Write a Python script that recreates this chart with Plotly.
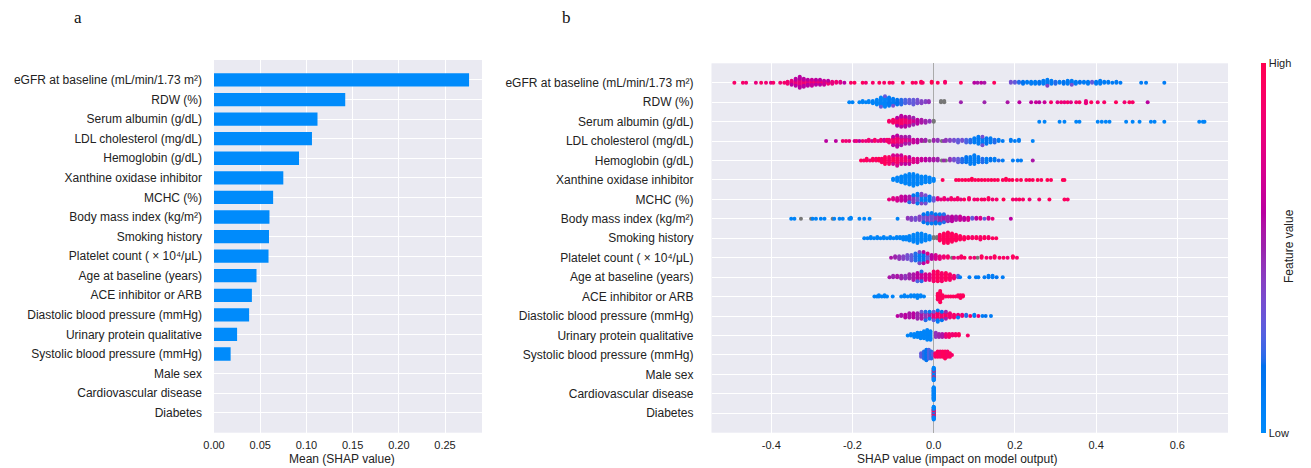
import numpy as np
import plotly.graph_objects as go

# ---------------- data ----------------
features = [
    "eGFR at baseline (mL/min/1.73 m²)", "RDW (%)", "Serum albumin (g/dL)",
    "LDL cholesterol (mg/dL)", "Hemoglobin (g/dL)", "Xanthine oxidase inhibitor",
    "MCHC (%)", "Body mass index (kg/m²)", "Smoking history",
    "Platelet count ( × 10⁴/μL)", "Age at baseline (years)", "ACE inhibitor or ARB",
    "Diastolic blood pressure (mmHg)", "Urinary protein qualitative",
    "Systolic blood pressure (mmHg)", "Male sex", "Cardiovascular disease", "Diabetes",
]
mean_shap = [0.276, 0.142, 0.112, 0.106, 0.092, 0.075, 0.064, 0.060, 0.0595, 0.059,
             0.046, 0.041, 0.038, 0.025, 0.018, 0.0, 0.0, 0.0]
bar_ticks = [0.0, 0.05, 0.10, 0.15, 0.20, 0.25]
bar_ticktext = ["0.00", "0.05", "0.10", "0.15", "0.20", "0.25"]
shap_ticks = [-0.4, -0.2, 0.0, 0.2, 0.4, 0.6]
shap_ticktext = ["-0.4", "-0.2", "0.0", "0.2", "0.4", "0.6"]

# beeswarm readings: (SHAP value, number of samples, feature value 0=low..1=high, None = missing)
egfr = [(-0.491,1,0.9),(-0.470,1,0.9),(-0.462,1,0.85),(-0.438,1,0.8),(-0.425,1,0.9),(-0.413,1,0.85),
        (-0.401,1,0.75),(-0.395,1,0.9),(-0.378,1,0.85),(-0.368,1,0.9),
        (-0.36,3,0.85),(-0.35,4,0.8),(-0.35,1,0.6),(-0.34,5,0.8),(-0.34,3,0.6),(-0.33,7,0.8),(-0.33,5,0.6),
        (-0.32,5,0.85),(-0.32,4,0.6),(-0.31,4,0.8),(-0.31,3,0.6),(-0.30,4,0.85),(-0.30,3,0.65),
        (-0.29,4,0.8),(-0.29,2,0.6),(-0.28,4,0.85),(-0.28,2,0.6),(-0.27,3,0.8),(-0.27,2,0.65),
        (-0.26,3,0.85),(-0.26,1,0.6),(-0.25,3,0.8),(-0.24,2,0.85),(-0.23,2,0.75),
        (-0.220,1,0.6),(-0.204,1,0.9),(-0.195,1,0.95),(-0.175,1,0.95),(-0.167,1,0.85),(-0.150,1,0.9),
        (-0.134,1,0.95),(-0.122,1,0.9),(-0.109,1,0.95),(-0.101,1,0.9),(-0.076,1,1.0),(-0.052,1,0.95),
        (-0.044,1,0.9),(-0.031,2,0.95),(-0.027,1,0.9),(-0.005,2,1.0),(0.010,1,0.95),(0.028,2,0.9),
        (0.067,1,0.95),(0.100,1,0.6),(0.108,1,0.55),(0.117,1,0.6),(0.125,1,0.55),(0.149,1,0.95),
        (0.19,2,0.35),(0.20,2,0.3),(0.21,2,0.2),(0.22,3,0.15),(0.23,2,0.1),(0.24,3,0.1),(0.25,3,0.1),
        (0.26,3,0.15),(0.27,4,0.1),(0.28,6,0.1),(0.28,1,0.4),(0.29,4,0.1),(0.30,3,0.2),(0.31,2,0.1),
        (0.32,3,0.15),(0.33,4,0.1),(0.34,4,0.1),(0.34,1,0.35),(0.35,3,0.1),(0.36,2,0.15),(0.37,2,0.1),
        (0.38,3,0.1),(0.39,2,0.3),(0.40,3,0.1),(0.41,4,0.1),(0.42,2,0.1),(0.43,2,0.1),(0.44,1,0.1),
        (0.45,2,0.1),(0.46,1,0.1),(0.511,1,0.1),(0.523,1,0.1),(0.568,1,0.1)]
rdw = [(-0.208,1,0.05),(-0.200,1,0.05),(-0.183,1,0.05),(-0.175,2,0.05),(-0.167,1,0.05),
       (-0.16,2,0.05),(-0.15,3,0.05),(-0.14,5,0.05),(-0.13,8,0.05),(-0.13,1,0.3),(-0.12,9,0.05),(-0.12,1,0.3),
       (-0.11,8,0.1),(-0.10,6,0.1),(-0.10,1,0.35),(-0.09,5,0.15),(-0.08,5,0.2),(-0.07,4,0.25),(-0.06,4,0.3),
       (-0.05,5,0.3),(-0.04,4,0.35),(-0.03,3,0.4),(-0.02,2,0.4),(-0.012,2,0.45),(0.018,2,None),(0.026,2,None),
       (0.067,1,0.5),(0.125,1,0.5),(0.182,1,0.55),(0.211,1,0.6),(0.240,1,0.6),(0.252,1,0.65),(0.260,1,0.6),
       (0.273,1,0.65),(0.289,1,0.9),(0.305,1,0.75),(0.314,1,0.85),(0.322,1,0.8),(0.330,1,0.9),(0.338,1,0.75),
       (0.351,1,0.85),(0.359,1,0.9),(0.375,3,0.8),(0.388,1,0.95),(0.404,1,0.85),(0.420,1,0.9),
       (0.449,1,0.95),(0.470,1,0.85),(0.482,1,0.95),(0.490,1,0.9),(0.527,1,0.6)]
albumin = [(-0.11,2,0.9),(-0.10,4,0.9),(-0.09,7,0.9),(-0.09,2,0.6),(-0.08,9,0.9),(-0.08,3,0.6),
           (-0.07,8,0.85),(-0.07,3,0.6),(-0.06,7,0.8),(-0.06,3,0.55),(-0.05,6,0.7),(-0.05,2,0.5),
           (-0.04,5,0.6),(-0.03,4,0.55),(-0.02,3,0.5),(-0.01,2,0.45),(0.0,2,None),
           (0.260,1,0.05),(0.273,1,0.05),(0.310,1,0.05),(0.322,1,0.05),(0.351,1,0.05),(0.359,1,0.05),
           (0.404,1,0.05),(0.414,1,0.05),(0.424,1,0.05),(0.433,1,0.05),(0.474,1,0.05),(0.490,1,0.05),
           (0.507,1,0.05),(0.535,1,0.05),(0.544,1,0.05),(0.568,1,0.05),(0.654,1,0.05),(0.663,1,0.05),
           (0.667,1,0.05)]
ldl = [(-0.265,1,0.6),(-0.241,1,0.6),(-0.224,1,0.85),(-0.216,1,0.85),(-0.208,1,0.8),
       (-0.195,1,0.7),(-0.19,1,0.85),(-0.183,1,0.6),(-0.175,1,0.85),(-0.167,1,0.8),(-0.16,2,0.85),
       (-0.152,1,0.7),(-0.145,2,0.9),(-0.137,1,0.75),(-0.13,2,0.85),(-0.122,2,0.7),(-0.115,2,0.9),
       (-0.11,3,0.85),(-0.10,5,0.9),(-0.10,2,0.6),(-0.09,6,0.85),(-0.09,3,0.6),(-0.08,5,0.8),(-0.08,2,0.55),
       (-0.07,4,0.75),(-0.07,2,0.55),(-0.06,4,0.7),(-0.06,2,0.5),(-0.05,3,0.65),(-0.04,3,0.6),
       (-0.03,2,0.55),(-0.025,1,None),(-0.02,2,0.5),(-0.01,1,None),(0.0,2,0.5),(0.01,2,0.45),(0.02,1,None),
       (0.025,1,0.45),(0.03,2,0.45),(0.04,2,0.4),(0.05,2,0.35),(0.06,3,0.3),(0.07,2,0.35),(0.08,3,0.25),
       (0.09,3,0.2),(0.10,4,0.1),(0.11,6,0.1),(0.12,5,0.1),(0.12,2,0.35),(0.13,5,0.15),(0.14,4,0.1),
       (0.15,3,0.2),(0.16,2,0.1),(0.17,1,0.1),(0.19,2,0.1),(0.20,1,0.1),(0.21,2,0.1),(0.244,1,0.05)]
hemoglobin = [(-0.179,1,0.95),(-0.172,1,0.9),(-0.165,2,0.95),(-0.157,1,0.85),(-0.15,2,0.95),(-0.142,2,0.9),
              (-0.135,2,1.0),(-0.128,3,0.9),(-0.12,5,0.95),(-0.11,5,0.9),(-0.10,4,0.95),(-0.10,2,0.7),
              (-0.09,5,0.9),(-0.09,2,0.7),(-0.08,4,0.85),(-0.08,2,0.65),(-0.07,4,0.85),(-0.07,1,0.6),
              (-0.06,3,0.8),(-0.06,2,0.6),(-0.05,3,0.75),(-0.04,3,0.7),(-0.03,2,0.65),(-0.02,2,0.6),
              (-0.01,2,0.55),(0.0,2,0.55),(0.01,2,0.5),(0.02,1,None),(0.025,1,0.5),(0.03,1,None),
              (0.04,2,0.45),(0.05,2,0.35),(0.06,3,0.3),(0.07,3,0.2),(0.08,4,0.15),(0.09,5,0.1),(0.10,6,0.1),
              (0.11,4,0.1),(0.12,3,0.2),(0.13,3,0.1),(0.14,2,0.15),(0.15,2,0.1),(0.16,1,0.2),(0.17,1,0.1),
              (0.195,1,0.1),(0.207,1,0.1),(0.215,1,0.1),(0.244,1,0.55)]
xanthine = [(-0.10,2,0.05),(-0.09,4,0.05),(-0.08,6,0.05),(-0.07,8,0.05),(-0.06,10,0.05),(-0.05,11,0.05),
            (-0.04,9,0.05),(-0.03,7,0.05),(-0.02,6,0.05),(-0.01,5,0.05),(0.0,3,0.05),
            (0.022,1,0.95),(0.055,1,0.95),(0.062,1,1.0),(0.070,1,0.95),(0.078,1,1.0),(0.086,1,0.95),
            (0.094,2,1.0),(0.102,1,0.95),(0.110,1,1.0),(0.118,1,0.95),(0.126,1,1.0),(0.134,1,0.95),
            (0.142,1,1.0),(0.150,1,0.95),(0.158,1,1.0),(0.170,1,0.95),(0.178,2,1.0),(0.186,1,0.95),
            (0.194,1,1.0),(0.205,1,0.95),(0.215,1,1.0),(0.228,1,0.95),(0.236,1,1.0),(0.244,1,0.95),
            (0.256,1,1.0),(0.265,1,0.95),(0.280,1,1.0),(0.289,1,0.95),(0.318,1,1.0),(0.322,1,0.95)]
mchc = [(-0.11,1,0.8),(-0.10,2,0.75),(-0.09,3,0.7),(-0.08,4,0.65),(-0.07,4,0.6),(-0.06,4,0.55),(-0.06,1,0.2),
        (-0.05,5,0.45),(-0.05,1,0.15),(-0.04,5,0.3),(-0.04,3,0.1),(-0.03,5,0.1),(-0.03,3,0.4),(-0.02,5,0.1),
        (-0.02,2,0.35),(-0.01,4,0.15),(0.0,3,0.3),
        (0.010,2,0.75),(0.018,1,0.8),(0.026,2,0.85),(0.035,1,0.7),(0.043,2,0.9),(0.051,1,0.85),(0.059,2,0.9),
        (0.067,1,0.8),(0.075,1,0.95),(0.087,2,0.9),(0.100,1,0.85),(0.108,1,0.9),(0.118,1,0.95),
        (0.125,1,0.9),(0.135,2,0.95),(0.145,1,0.85),(0.155,1,0.9),(0.172,1,1.0),(0.195,1,0.9),
        (0.203,1,0.85),(0.211,1,0.95),(0.220,1,0.9),(0.236,1,0.85),(0.260,1,0.9),(0.285,1,0.95),
        (0.322,1,0.95),(0.330,1,0.9)]
bmi = [(-0.351,1,0.05),(-0.343,1,0.05),(-0.327,1,None),(-0.302,1,None),(-0.298,1,0.05),(-0.290,1,0.05),
       (-0.278,1,0.05),(-0.269,1,0.05),(-0.249,1,None),(-0.245,1,0.05),(-0.232,1,0.05),(-0.224,1,0.05),
       (-0.208,1,0.05),(-0.204,2,0.05),(-0.183,1,0.05),(-0.171,1,0.05),(-0.158,1,0.05),(-0.089,1,0.05),
       (-0.064,2,0.45),(-0.055,3,0.4),(-0.045,3,0.35),(-0.035,4,0.4),(-0.025,6,0.35),(-0.025,2,0.15),
       (-0.015,7,0.4),(-0.015,3,0.1),(-0.005,8,0.35),(-0.005,2,0.1),(0.005,6,0.45),(0.005,3,0.15),
       (0.015,7,0.5),(0.015,2,0.1),(0.025,6,0.55),(0.025,2,0.2),(0.035,5,0.5),(0.045,5,0.6),(0.055,4,0.55),
       (0.065,4,0.65),(0.075,3,0.6),(0.085,3,0.7),(0.095,2,0.3),(0.105,2,0.6),(0.115,2,0.75),(0.125,1,0.3),
       (0.135,2,0.7),(0.145,1,0.8),(0.190,1,0.6)]
smoking = [(-0.171,1,0.05),(-0.163,1,0.05),(-0.155,2,0.05),(-0.147,1,0.05),(-0.139,2,0.05),(-0.131,1,0.05),
           (-0.123,2,0.05),(-0.115,1,0.05),(-0.107,2,0.05),(-0.099,1,0.05),(-0.091,2,0.05),(-0.083,2,0.05),
           (-0.075,3,0.05),(-0.068,3,0.05),(-0.06,5,0.05),(-0.05,7,0.05),(-0.04,9,0.05),(-0.03,8,0.05),
           (-0.02,6,0.05),(-0.01,4,0.05),(0.0,2,None),(0.008,2,None),
           (0.015,6,0.95),(0.025,9,0.95),(0.035,10,0.95),(0.045,8,0.95),(0.055,6,0.95),(0.065,4,0.95),
           (0.075,3,0.95),(0.085,2,0.95),(0.095,2,0.9),(0.105,2,0.95),(0.115,3,0.9),(0.125,2,0.95),
           (0.135,2,0.9),(0.145,1,0.95),(0.154,1,0.95)]
platelet = [(-0.105,1,0.55),(-0.095,2,0.5),(-0.085,3,0.45),(-0.075,3,0.4),(-0.065,4,0.35),(-0.055,5,0.3),
            (-0.045,6,0.2),(-0.035,7,0.1),(-0.035,2,0.4),(-0.025,7,0.15),(-0.025,2,0.6),(-0.015,5,0.3),
            (-0.015,2,0.75),(-0.005,4,0.6),(0.005,4,0.7),(0.015,3,0.8),(0.025,2,0.85),(0.035,2,0.9),
            (0.045,1,None),(0.050,1,0.8),(0.060,1,0.85),(0.068,2,0.9),(0.076,1,0.95),(0.090,1,0.9),
            (0.100,1,0.85),(0.108,1,None),(0.118,2,0.95),(0.130,1,0.9),(0.140,1,0.85),(0.150,2,0.95),
            (0.162,1,0.9),(0.172,1,0.95),(0.182,1,0.85),(0.195,2,0.95),(0.205,1,0.9)]
age = [(-0.109,1,0.55),(-0.10,2,0.5),(-0.09,2,0.55),(-0.08,3,0.5),(-0.07,3,0.45),(-0.06,4,0.5),(-0.05,5,0.55),
       (-0.04,6,0.6),(-0.04,1,0.25),(-0.03,6,0.65),(-0.03,2,0.2),(-0.02,5,0.7),(-0.01,5,0.75),(0.0,8,0.9),
       (0.01,8,0.95),(0.02,7,0.9),(0.03,6,0.95),(0.04,5,0.9),(0.05,3,0.85),(0.06,2,0.3),(0.065,1,0.1),
       (0.088,1,0.1),(0.104,1,0.1),(0.110,1,0.1),(0.125,1,0.1),(0.135,2,0.1),(0.145,2,0.1),(0.155,1,0.15),
       (0.170,1,0.1)]
ace = [(-0.146,1,0.05),(-0.140,1,0.05),(-0.135,2,0.05),(-0.128,1,0.05),(-0.121,2,0.05),(-0.115,1,0.05),
       (-0.101,1,0.05),(-0.080,1,0.05),(-0.072,2,0.05),(-0.064,1,0.05),(-0.056,2,0.05),(-0.048,2,0.05),
       (-0.040,3,0.05),(-0.032,2,0.05),(-0.024,1,0.05),
       (0.010,5,0.95),(0.016,9,0.95),(0.022,3,0.95),(0.030,1,0.95),(0.036,1,0.95),(0.042,1,0.95),
       (0.048,1,0.95),(0.054,1,0.95),(0.060,2,0.95),(0.066,3,0.95),(0.072,2,0.95)]
diastolic = [(-0.089,1,0.6),(-0.08,2,0.55),(-0.07,3,0.6),(-0.06,4,0.55),(-0.05,4,0.6),(-0.04,5,0.5),
             (-0.03,5,0.55),(-0.03,1,0.3),(-0.02,5,0.45),(-0.02,2,0.2),(-0.01,4,0.5),(-0.01,2,0.1),
             (0.0,5,0.8),(0.0,2,0.3),(0.01,6,0.9),(0.01,3,0.1),(0.02,5,0.85),(0.02,2,0.15),(0.03,4,0.9),
             (0.03,2,0.5),(0.04,4,0.85),(0.05,3,0.9),(0.06,2,0.8),(0.06,1,0.1),(0.07,2,0.85),(0.08,2,0.2),
             (0.09,1,0.9),(0.10,2,0.1),(0.11,1,0.85),(0.12,1,0.1),(0.128,1,0.15),(0.141,1,0.1)]
urinary = [(-0.064,1,0.05),(-0.056,2,0.05),(-0.048,3,0.05),(-0.040,4,0.05),(-0.032,5,0.05),(-0.024,6,0.05),
           (-0.016,8,0.05),(-0.008,7,0.05),(0.005,4,0.45),(0.013,3,0.5),(0.021,3,0.55),(0.030,3,0.8),
           (0.038,3,0.9),(0.046,2,0.85),(0.054,2,0.9),(0.062,2,0.95),(0.084,1,0.9)]
systolic = [(-0.031,3,0.3),(-0.024,5,0.2),(-0.018,7,0.15),(-0.012,6,0.25),(-0.006,5,0.2),(-0.002,2,0.3),
            (0.004,3,0.9),(0.010,4,0.95),(0.016,4,0.9),(0.022,4,0.95),(0.028,5,0.95),(0.034,4,0.9),
            (0.040,3,0.95),(0.045,1,0.9)]
male_sex = [(0.0,4,0.95),(0.0,8,0.05),(0.0,4,0.95),(0.0,10,0.05)]
cardiovascular = [(0.0,30,0.05)]
diabetes = [(0.0,2,0.05),(0.0,6,0.95),(0.0,4,0.05),(0.0,6,0.95),(0.0,12,0.05)]

swarm_rows = [egfr, rdw, albumin, ldl, hemoglobin, xanthine, mchc, bmi, smoking, platelet,
              age, ace, diastolic, urinary, systolic, male_sex, cardiovascular, diabetes]

# ---------------- colormap (shap red_blue, LCH interpolation) ----------------
def lch2rgb(L, C, h):
    a, b = C * np.cos(h), C * np.sin(h)
    fy = (L + 16) / 116
    fx, fz = fy + a / 500, fy - b / 200
    finv = lambda t: t ** 3 if t ** 3 > 0.008856 else (t - 16 / 116) / 7.787
    X, Y, Z = 0.95047 * finv(fx), finv(fy), 1.08883 * finv(fz)
    lin = [3.2406 * X - 1.5372 * Y - 0.4986 * Z,
           -0.9689 * X + 1.8758 * Y + 0.0415 * Z,
           0.0557 * X - 0.2040 * Y + 1.0570 * Z]
    out = []
    for c in lin:
        c = 1.055 * c ** (1 / 2.4) - 0.055 if c > 0.0031308 else 12.92 * c
        out.append(int(round(255 * min(1, max(0, c)))))
    return "rgb(%d,%d,%d)" % tuple(out)

nsteps = 100
l_vals = list(np.linspace(54, 40, nsteps // 2)) + list(np.linspace(40, 54, nsteps // 2))
c_vals = np.linspace(70, 90, nsteps)
h_vals = np.linspace(4.6588, 0.35470565 + 2 * np.pi, nsteps)
cscale = [[i / (nsteps - 1), lch2rgb(l_vals[i], c_vals[i], h_vals[i])] for i in range(nsteps)]

# ---------------- beeswarm layout ----------------
n = len(features)
pos = [n - 1 - i for i in range(n)]
col_x, col_y, col_c, nan_x, nan_y = [], [], [], [], []
for i, rows in enumerate(swarm_rows):
    stacks, order = {}, []
    for v, cnt, fv in rows:
        k = round(v, 4)
        if k not in stacks:
            stacks[k] = []
            order.append(k)
        stacks[k].extend([fv] * cnt)
    pts = []
    for k in order:
        for layer, fv in enumerate(stacks[k]):
            ys = np.ceil(layer / 2) * ((layer % 2) * 2 - 1)
            pts.append((k, ys, fv))
    ymax = max(abs(p[1]) for p in pts)
    scale = 0.9 * 0.4 / (ymax + 1)
    for k, ys, fv in pts:
        if fv is None:
            nan_x.append(k); nan_y.append(pos[i] + ys * scale)
        else:
            col_x.append(k); col_y.append(pos[i] + ys * scale); col_c.append(fv)

# ---------------- figure ----------------
W, H = 1311, 468
FONT = "Liberation Sans"
TXT = "#222222"
fig = go.Figure()

fig.add_trace(go.Bar(x=mean_shap, y=pos, orientation="h", width=0.68,
                     marker=dict(color="#008bfb", line=dict(width=0)),
                     xaxis="x", yaxis="y", showlegend=False))

fig.add_trace(go.Scatter(x=nan_x, y=nan_y, mode="markers", xaxis="x2", yaxis="y2",
                         marker=dict(size=4, color="#777777", line=dict(width=0)), showlegend=False))
fig.add_trace(go.Scatter(x=col_x, y=col_y, mode="markers", xaxis="x2", yaxis="y2", showlegend=False,
                         marker=dict(size=4, color=col_c, colorscale=cscale, cmin=0, cmax=1,
                                     line=dict(width=0), showscale=True,
                                     colorbar=dict(thickness=5, len=369.5 / H, lenmode="fraction",
                                                   y=1 - 248 / H, yanchor="middle",
                                                   x=1261 / W, xanchor="left", xpad=0, ypad=0,
                                                   outlinewidth=0, tickvals=[0, 1],
                                                   ticktext=["Low", "High"], ticks="",
                                                   tickfont=dict(family=FONT, size=11, color=TXT)))))

grid = "#ffffff"
bg = "#eaeaf2"
fig.update_layout(
    width=W, height=H, autosize=False, template="none",
    margin=dict(l=0, r=0, t=0, b=0),
    paper_bgcolor="white", plot_bgcolor=bg,
    font=dict(family=FONT, size=12, color=TXT),
    xaxis=dict(domain=[214 / W, 482 / W], range=[0, 0.29], tickvals=bar_ticks, ticktext=bar_ticktext,
               showgrid=True, gridcolor=grid, gridwidth=1, zeroline=False, showline=False, ticks="",
               tickfont=dict(size=11), automargin=False, ticklabelstandoff=4, fixedrange=True),
    yaxis=dict(domain=[1 - 432.7 / H, 1 - 60 / H], range=[-1.02, n - 1 + 1.02], tickvals=pos,
               ticktext=features, showgrid=True, gridcolor=grid, gridwidth=1, zeroline=False,
               showline=False, ticks="", tickfont=dict(size=12), automargin=False,
               ticklabelstandoff=11, fixedrange=True),
    xaxis2=dict(domain=[711.5 / W, 1228 / W], range=[(711.5 - 933.7) / 406, (1228 - 933.7) / 406],
                tickvals=shap_ticks, ticktext=shap_ticktext, showgrid=True, gridcolor=grid, gridwidth=1,
                zeroline=True, zerolinecolor="#aaaaaa", zerolinewidth=1, showline=False, ticks="",
                tickfont=dict(size=11), automargin=False, ticklabelstandoff=4, anchor="y2",
                fixedrange=True),
    yaxis2=dict(domain=[1 - 432.7 / H, 1 - 63.3 / H], range=[-1.0, n - 1 + 1.0], tickvals=pos,
                ticktext=features, showgrid=True, gridcolor=grid, gridwidth=1, zeroline=False,
                showline=False, ticks="", tickfont=dict(size=12), automargin=False,
                ticklabelstandoff=17, anchor="x2", fixedrange=True),
    annotations=[
        dict(text="Mean (SHAP value)", x=341.5 / W, y=1 - 459 / H, xref="paper", yref="paper",
             showarrow=False, xanchor="center", yanchor="middle", font=dict(size=12)),
        dict(text="SHAP value (impact on model output)", x=957 / W, y=1 - 459 / H, xref="paper",
             yref="paper", showarrow=False, xanchor="center", yanchor="middle", font=dict(size=12)),
        dict(text="Feature value", x=1289 / W, y=1 - 246 / H, xref="paper", yref="paper",
             showarrow=False, textangle=-90, xanchor="center", yanchor="middle", font=dict(size=12)),
        dict(text="a", x=78 / W, y=1 - 18 / H, xref="paper", yref="paper", showarrow=False,
             xanchor="center", yanchor="middle",
             font=dict(family="Liberation Serif", size=17, color="#111111")),
        dict(text="b", x=566 / W, y=1 - 18 / H, xref="paper", yref="paper", showarrow=False,
             xanchor="center", yanchor="middle",
             font=dict(family="Liberation Serif", size=17, color="#111111")),
    ],
)
fig.write_html("out.html")
